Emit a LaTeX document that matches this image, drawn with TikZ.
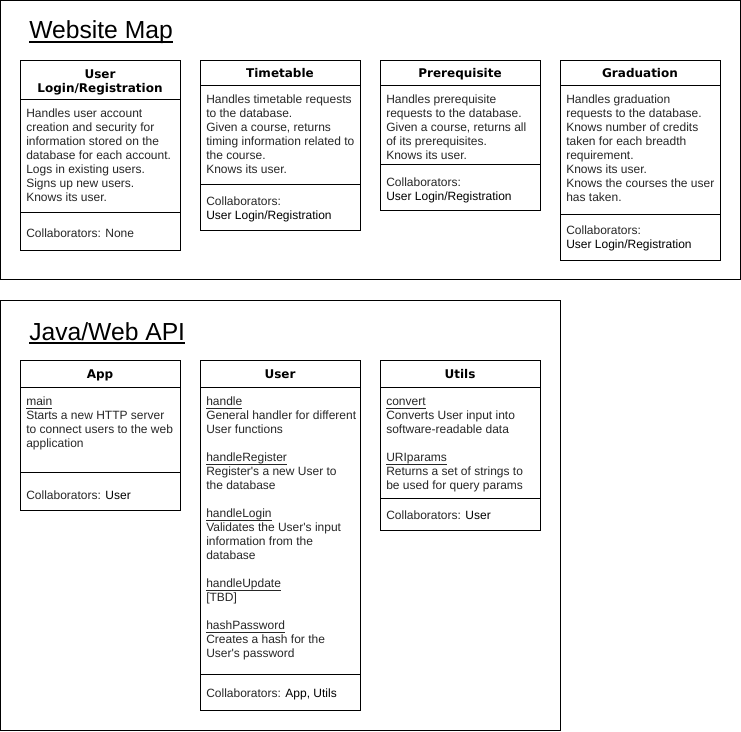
\documentclass[tikz,border=0pt]{standalone}
\usepackage{fontspec}
\setmainfont{Liberation Sans}[Ligatures=TeXOff]
\newfontfamily\headfont{DejaVu Sans}
\usepackage{xcolor}
\definecolor{cardInk}{RGB}{0,0,0}
\definecolor{bodyInk}{RGB}{38,38,38}
\newcommand{\meth}[1]{\underline{\smash{#1}}}
\newcommand{\collab}[1]{\textcolor{cardInk}{#1}}

\begin{document}
\begin{tikzpicture}[x=0.75pt,y=-0.75pt,
  frame/.style={draw=cardInk,line width=0.75pt},
  card/.style={draw=cardInk,line width=0.75pt},
  titleline/.style={draw=cardInk,line width=1.1pt},
  pagetitle/.style={anchor=base west,inner sep=0pt,text=cardInk,font=\fontsize{18.5}{21}\selectfont},
  cardhead/.style={inner sep=0pt,align=center,text=cardInk,font=\headfont\bfseries\fontsize{9}{10.5}\selectfont},
  cardtext/.style={anchor=north west,inner sep=0pt,align=left,text=bodyInk,font=\fontsize{9}{10.5}\selectfont}]
\path[use as bounding box] (0,0) rectangle (741,731);

% website map
\draw[frame] (0.5,0.5) rectangle (740,279.5);
\node[pagetitle] (siteTitle) at (29,38.5) {Website Map};
\draw[titleline] ([yshift=-2.5pt]siteTitle.base west) -- ([yshift=-2.5pt]siteTitle.base east);

\draw[card] (20,60.5) rectangle (180,250);
\draw[card] (20,100) -- (180,100) (20,212) -- (180,212);
\node[cardhead] (loginHead) at (100,82) {User\\Login/Registration};
\node[cardtext] (loginBody) at (26,107.5) {\strut Handles user account\\creation and security for\\information stored on the\\database for each account.\\Logs in existing users.\\Signs up new users.\\Knows its user.};
\node[cardtext] (loginCollab) at (26,227.5) {\strut Collaborators: None};

\draw[card] (200,60.5) rectangle (360,230);
\draw[card] (200,86) -- (360,86) (200,184) -- (360,184);
\node[cardhead,anchor=base] (timeHead) at (280,77.5) {Timetable};
\node[cardtext] (timeBody) at (206,93.9) {\strut Handles timetable requests\\to the database.\\Given a course, returns\\timing information related to\\the course.\\Knows its user.};
\node[cardtext] (timeCollab) at (206,195.9) {\strut Collaborators:\\\collab{User Login/Registration}};

\draw[card] (380,60.5) rectangle (540,210);
\draw[card] (380,86) -- (540,86) (380,164) -- (540,164);
\node[cardhead,anchor=base] (preHead) at (460,77.5) {Prerequisite};
\node[cardtext] (preBody) at (386,93.5) {\strut Handles prerequisite\\requests to the database.\\Given a course, returns all\\of its prerequisites.\\Knows its user.};
\node[cardtext] (preCollab) at (386,176.9) {\strut Collaborators:\\\collab{User Login/Registration}};

\draw[card] (560,60.5) rectangle (720,260);
\draw[card] (560,86) -- (720,86) (560,214.5) -- (720,214.5);
\node[cardhead,anchor=base] (gradHead) at (640,77.5) {Graduation};
\node[cardtext] (gradBody) at (566,93.5) {\strut Handles graduation\\requests to the database.\\Knows number of credits\\taken for each breadth\\requirement.\\Knows its user.\\Knows the courses the user\\has taken.};
\node[cardtext] (gradCollab) at (566,224.9) {\strut Collaborators:\\\collab{User Login/Registration}};

% java/web api
\draw[frame] (0.5,300) rectangle (560,730);
\node[pagetitle] (apiTitle) at (29,340) {Java/Web API};
\draw[titleline] ([yshift=-2.2pt]apiTitle.base west) -- ([yshift=-2.2pt]apiTitle.base east);

\draw[card] (20,360.5) rectangle (180,510.5);
\draw[card] (20,387) -- (180,387) (20,472.5) -- (180,472.5);
\node[cardhead,anchor=base] (appHead) at (100,378.5) {App};
\node[cardtext] (appBody) at (26,395.9) {\strut\meth{main}\\Starts a new HTTP server\\to connect users to the web\\application};
\node[cardtext] (appCollab) at (26,489.2) {\strut Collaborators: \collab{User}};

\draw[card] (200,360.5) rectangle (360,710);
\draw[card] (200,387) -- (360,387) (200,674) -- (360,674);
\node[cardhead,anchor=base] (userHead) at (280,378.5) {User};
\node[cardtext] (userBody) at (206,395.9) {\strut\meth{handle}\\General handler for different\\User functions\\[10.5pt]\meth{handleRegister}\\Register's a new User to\\the database\\[10.5pt]\meth{handleLogin}\\Validates the User's input\\information from the\\database\\[10.5pt]\meth{handleUpdate}\\{[TBD]}\\[10.5pt]\meth{hashPassword}\\Creates a hash for the\\User's password};
\node[cardtext] (userCollab) at (206,687.5) {\strut Collaborators: \collab{App, Utils}};

\draw[card] (380,360.5) rectangle (540,530);
\draw[card] (380,387) -- (540,387) (380,498) -- (540,498);
\node[cardhead,anchor=base] (utilsHead) at (460,378.5) {Utils};
\node[cardtext] (utilsBody) at (386,395.9) {\strut\meth{convert}\\Converts User input into\\software-readable data\\[10.5pt]\meth{URIparams}\\Returns a set of strings to\\be used for query params};
\node[cardtext] (utilsCollab) at (386,509.2) {\strut Collaborators: \collab{User}};
\end{tikzpicture}
\end{document}
